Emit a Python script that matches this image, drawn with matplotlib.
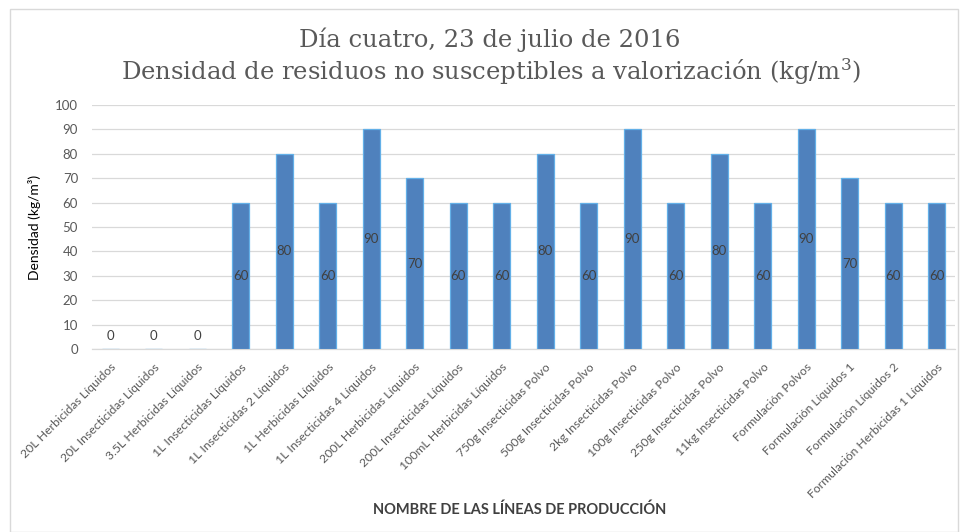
import matplotlib
matplotlib.use("Agg")
import matplotlib.pyplot as plt
from matplotlib.patches import Rectangle

categorias = [
    "20L Herbicidas Líquidos", "20L Insecticidas Líquidos", "3.5L Herbicidas Líquidos",
    "1L Insecticidas Líquidos", "1L Insecticidas 2 Líquidos", "1L Herbicidas Líquidos",
    "1L Insecticidas 4 Líquidos", "200L Herbicidas Líquidos", "200L Insecticidas Líquidos",
    "100mL Herbicidas Líquidos", "750g Insecticidas Polvo", "500g Insecticidas Polvo",
    "2kg Insecticidas Polvo", "100g Insecticidas Polvo", "250g Insecticidas Polvo",
    "11kg Insecticidas Polvo", "Formulación Polvos", "Formulación Líquidos 1",
    "Formulación Líquidos 2", "Formulación Herbicidas 1 Líquidos",
]
densidad = [0, 0, 0, 60, 80, 60, 90, 70, 60, 60, 80, 60, 90, 60, 80, 60, 90, 70, 60, 60]
y_ticks = [0, 10, 20, 30, 40, 50, 60, 70, 80, 90, 100]

plt.rcParams["font.family"] = ["Lato", "DejaVu Sans"]
plt.rcParams["mathtext.fontset"] = "dejavuserif"

W, H = 961, 532
fig = plt.figure(figsize=(W / 100, H / 100), dpi=100)
fig.patch.set_facecolor("white")

# outer chart frame
fig.patches.append(Rectangle((10 / W, 0.5 / H), 948 / W, (H - 9.5) / H,
                             transform=fig.transFigure, fill=False,
                             edgecolor="#D9D9D9", linewidth=1.0))

ax = fig.add_axes([92 / W, 1 - 349 / H, 863 / W, 244 / H])
x = list(range(len(categorias)))
bars = ax.bar(x, densidad, width=0.4, color="#4F81BD", edgecolor="#63B0E8",
              linewidth=0.9, zorder=3)

ax.set_xlim(-0.42, len(categorias) - 0.58)
ax.set_ylim(0, 100)
ax.set_yticks(y_ticks)
ax.yaxis.grid(True, color="#D9D9D9", linewidth=0.9, zorder=0)
ax.set_axisbelow(True)
for s in ["top", "right", "left"]:
    ax.spines[s].set_visible(False)
ax.spines["bottom"].set_color("#D9D9D9")
ax.spines["bottom"].set_linewidth(0.9)
ax.tick_params(axis="both", length=0, colors="#595959", labelsize=9.5)
ax.tick_params(axis="y", pad=10)

ax.set_xticks(x)
ax.set_xticklabels(categorias, rotation=45, ha="right", rotation_mode="anchor",
                   fontsize=8.8, color="#595959")
ax.tick_params(axis="x", pad=9)

# value labels centred in each bar; zero values sit just above the axis
for xi, v in zip(x, densidad):
    if v > 0:
        ax.text(xi, v / 2, f"{v}", ha="center", va="center", fontsize=9.5,
                color="#404040", zorder=4)
    else:
        ax.annotate(f"{v}", (xi, 0), xytext=(0, 13), textcoords="offset pixels",
                    ha="center", va="center", fontsize=9.5, color="#404040")

ax.set_ylabel("Densidad (kg/m³)", fontsize=10, color="#000000", labelpad=10)
fig.text(520 / W, 1 - 510 / H, "NOMBRE DE LAS LÍNEAS DE PRODUCCIÓN",
         ha="center", va="center", fontsize=10.5, color="#404040", fontweight="bold")

title_font = ["DejaVu Serif"]
fig.text(490 / W, 1 - 40 / H, "Día cuatro, 23 de julio de 2016",
         ha="center", va="center", fontsize=17.5, color="#595959", family=title_font)
fig.text(491 / W, 1 - 72 / H,
         "Densidad de residuos no susceptibles a valorización (kg/m$^3$)",
         ha="center", va="center", fontsize=17.5, color="#595959", family=title_font)

fig.savefig("out.png", dpi=100, facecolor="white")
